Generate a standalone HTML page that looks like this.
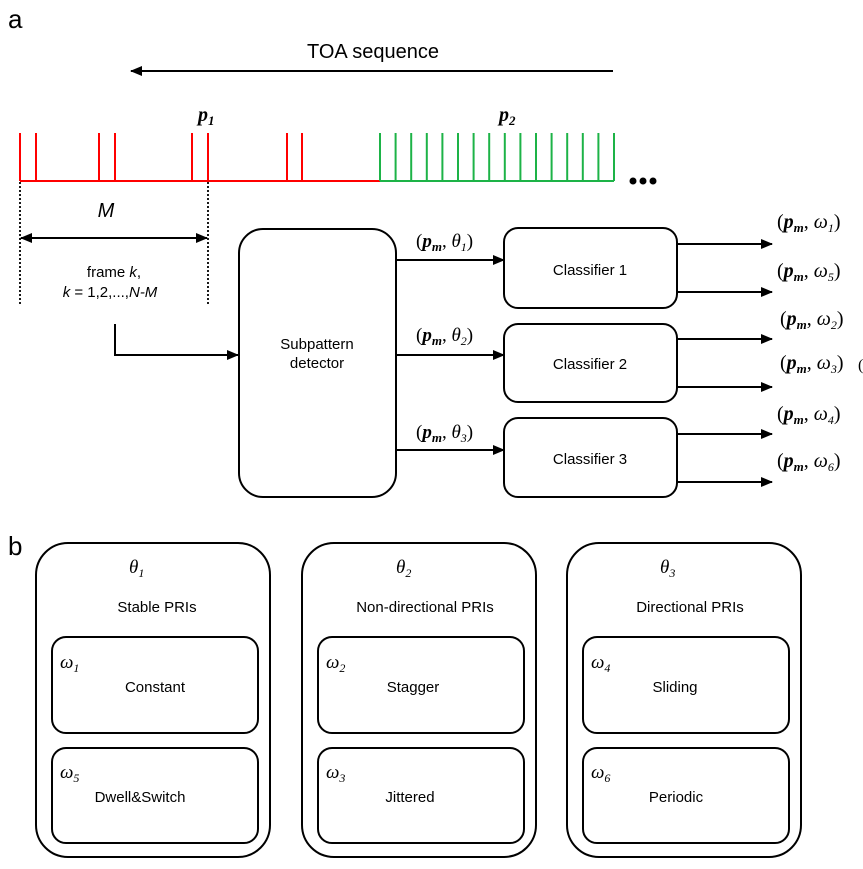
<!DOCTYPE html>
<html><head><meta charset="utf-8"><style>
html,body{margin:0;padding:0;background:#fff;}
svg{display:block;}
.s{font-family:"Liberation Sans",sans-serif;fill:#000;}
.m{font-family:"Liberation Serif",serif;fill:#000;}
</style></head><body>
<svg width="863" height="869" viewBox="0 0 863 869" xmlns="http://www.w3.org/2000/svg">
<defs>
<marker id="ar" markerWidth="12" markerHeight="10" refX="11" refY="5" orient="auto" markerUnits="userSpaceOnUse"><path d="M0,0 L12,5 L0,10 Z" fill="#000"/></marker>
<marker id="al" markerWidth="12" markerHeight="10" refX="1" refY="5" orient="auto" markerUnits="userSpaceOnUse"><path d="M12,0 L0,5 L12,10 Z" fill="#000"/></marker>
</defs>
<text x="8" y="28" class="s" font-size="26">a</text>
<text x="373" y="58" class="s" font-size="20" text-anchor="middle">TOA sequence</text>
<line x1="131" y1="71" x2="613" y2="71" stroke="#000" stroke-width="2" marker-start="url(#al)"/>
<text x="198" y="121" class="m" font-size="20" font-weight="bold" font-style="italic">p<tspan font-size="13" dy="4">1</tspan></text>
<text x="499" y="121" class="m" font-size="20" font-weight="bold" font-style="italic">p<tspan font-size="13" dy="4">2</tspan></text>
<g stroke="#f00" stroke-width="2">
<line x1="20" y1="181" x2="380" y2="181"/>
<line x1="20" y1="133" x2="20" y2="181"/><line x1="36" y1="133" x2="36" y2="181"/>
<line x1="99" y1="133" x2="99" y2="181"/><line x1="115" y1="133" x2="115" y2="181"/>
<line x1="192" y1="133" x2="192" y2="181"/><line x1="208" y1="133" x2="208" y2="181"/>
<line x1="287" y1="133" x2="287" y2="181"/><line x1="302" y1="133" x2="302" y2="181"/>
</g>
<g stroke="#1db347" stroke-width="2">
<line x1="380" y1="181" x2="614" y2="181"/>
<line x1="380" y1="133" x2="380" y2="181"/><line x1="395.6" y1="133" x2="395.6" y2="181"/><line x1="411.2" y1="133" x2="411.2" y2="181"/><line x1="426.8" y1="133" x2="426.8" y2="181"/><line x1="442.4" y1="133" x2="442.4" y2="181"/><line x1="458" y1="133" x2="458" y2="181"/><line x1="473.6" y1="133" x2="473.6" y2="181"/><line x1="489.2" y1="133" x2="489.2" y2="181"/><line x1="504.8" y1="133" x2="504.8" y2="181"/><line x1="520.4" y1="133" x2="520.4" y2="181"/><line x1="536" y1="133" x2="536" y2="181"/><line x1="551.6" y1="133" x2="551.6" y2="181"/><line x1="567.2" y1="133" x2="567.2" y2="181"/><line x1="582.8" y1="133" x2="582.8" y2="181"/><line x1="598.4" y1="133" x2="598.4" y2="181"/><line x1="614" y1="133" x2="614" y2="181"/>
</g>
<circle cx="633" cy="181" r="3.5"/><circle cx="643" cy="181" r="3.5"/><circle cx="653" cy="181" r="3.5"/>
<g stroke="#000" stroke-width="1.8" stroke-dasharray="2,2">
<line x1="20" y1="182" x2="20" y2="306"/><line x1="208" y1="182" x2="208" y2="306"/>
</g>
<text x="106" y="217" class="s" font-size="20" font-style="italic" text-anchor="middle">M</text>
<line x1="21" y1="238" x2="207" y2="238" stroke="#000" stroke-width="2" marker-start="url(#al)" marker-end="url(#ar)"/>
<text x="114" y="277" class="s" font-size="15" text-anchor="middle">frame <tspan font-style="italic">k</tspan>,</text>
<text x="110" y="297" class="s" font-size="15" text-anchor="middle"><tspan font-style="italic">k</tspan> = 1,2,...,<tspan font-style="italic">N-M</tspan></text>
<polyline points="115,324 115,355 238,355" fill="none" stroke="#000" stroke-width="2" marker-end="url(#ar)"/>
<rect x="239" y="229" width="157" height="268" rx="24" fill="none" stroke="#000" stroke-width="2"/>
<text x="317" y="349" class="s" font-size="15" text-anchor="middle">Subpattern</text>
<text x="317" y="368" class="s" font-size="15" text-anchor="middle">detector</text>
<g stroke="#000" stroke-width="2" fill="none">
<line x1="396" y1="260" x2="504" y2="260" marker-end="url(#ar)"/>
<line x1="396" y1="355" x2="504" y2="355" marker-end="url(#ar)"/>
<line x1="396" y1="450" x2="504" y2="450" marker-end="url(#ar)"/>
<rect x="504" y="228" width="173" height="80" rx="14"/>
<rect x="504" y="324" width="173" height="78" rx="14"/>
<rect x="504" y="418" width="173" height="79" rx="14"/>
<line x1="677" y1="244" x2="772" y2="244" marker-end="url(#ar)"/>
<line x1="677" y1="292" x2="772" y2="292" marker-end="url(#ar)"/>
<line x1="677" y1="339" x2="772" y2="339" marker-end="url(#ar)"/>
<line x1="677" y1="387" x2="772" y2="387" marker-end="url(#ar)"/>
<line x1="677" y1="434" x2="772" y2="434" marker-end="url(#ar)"/>
<line x1="677" y1="482" x2="772" y2="482" marker-end="url(#ar)"/>
</g>
<text x="590" y="275" class="s" font-size="15" text-anchor="middle">Classifier 1</text>
<text x="590" y="369" class="s" font-size="15" text-anchor="middle">Classifier 2</text>
<text x="590" y="464" class="s" font-size="15" text-anchor="middle">Classifier 3</text>
<g class="m" font-size="19">
<text x="416" y="247">(<tspan font-weight="bold" font-style="italic">p<tspan font-size="13" dy="4">m</tspan></tspan><tspan dy="-4">, </tspan><tspan font-style="italic">θ<tspan font-size="12" dy="4">1</tspan></tspan><tspan dy="-4">)</tspan></text>
<text x="416" y="341">(<tspan font-weight="bold" font-style="italic">p<tspan font-size="13" dy="4">m</tspan></tspan><tspan dy="-4">, </tspan><tspan font-style="italic">θ<tspan font-size="12" dy="4">2</tspan></tspan><tspan dy="-4">)</tspan></text>
<text x="416" y="438">(<tspan font-weight="bold" font-style="italic">p<tspan font-size="13" dy="4">m</tspan></tspan><tspan dy="-4">, </tspan><tspan font-style="italic">θ<tspan font-size="12" dy="4">3</tspan></tspan><tspan dy="-4">)</tspan></text>
</g>
<g class="m" font-size="20">
<text x="777" y="228">(<tspan font-weight="bold" font-style="italic">p<tspan font-size="13" dy="4">m</tspan></tspan><tspan dy="-4">, </tspan><tspan font-style="italic">ω<tspan font-size="12" dy="4">1</tspan></tspan><tspan dy="-4">)</tspan></text>
<text x="777" y="277">(<tspan font-weight="bold" font-style="italic">p<tspan font-size="13" dy="4">m</tspan></tspan><tspan dy="-4">, </tspan><tspan font-style="italic">ω<tspan font-size="12" dy="4">5</tspan></tspan><tspan dy="-4">)</tspan></text>
<text x="780" y="325">(<tspan font-weight="bold" font-style="italic">p<tspan font-size="13" dy="4">m</tspan></tspan><tspan dy="-4">, </tspan><tspan font-style="italic">ω<tspan font-size="12" dy="4">2</tspan></tspan><tspan dy="-4">)</tspan></text>
<text x="780" y="369">(<tspan font-weight="bold" font-style="italic">p<tspan font-size="13" dy="4">m</tspan></tspan><tspan dy="-4">, </tspan><tspan font-style="italic">ω<tspan font-size="12" dy="4">3</tspan></tspan><tspan dy="-4">)</tspan></text>
<text x="777" y="420">(<tspan font-weight="bold" font-style="italic">p<tspan font-size="13" dy="4">m</tspan></tspan><tspan dy="-4">, </tspan><tspan font-style="italic">ω<tspan font-size="12" dy="4">4</tspan></tspan><tspan dy="-4">)</tspan></text>
<text x="777" y="467">(<tspan font-weight="bold" font-style="italic">p<tspan font-size="13" dy="4">m</tspan></tspan><tspan dy="-4">, </tspan><tspan font-style="italic">ω<tspan font-size="12" dy="4">6</tspan></tspan><tspan dy="-4">)</tspan></text>
<text x="858" y="370" font-size="16">(</text>
</g>
<text x="8" y="555" class="s" font-size="26">b</text>
<g stroke="#000" stroke-width="2" fill="none">
<rect x="36" y="543" width="234" height="314" rx="32"/>
<rect x="302" y="543" width="234" height="314" rx="32"/>
<rect x="567" y="543" width="234" height="314" rx="32"/>
<rect x="52" y="637" width="206" height="96" rx="14"/>
<rect x="52" y="748" width="206" height="95" rx="14"/>
<rect x="318" y="637" width="206" height="96" rx="14"/>
<rect x="318" y="748" width="206" height="95" rx="14"/>
<rect x="583" y="637" width="206" height="96" rx="14"/>
<rect x="583" y="748" width="206" height="95" rx="14"/>
</g>
<g class="m" font-size="19" font-style="italic">
<text x="129" y="573">θ<tspan font-size="12" dy="4">1</tspan></text>
<text x="396" y="573">θ<tspan font-size="12" dy="4">2</tspan></text>
<text x="660" y="573">θ<tspan font-size="12" dy="4">3</tspan></text>
<text x="60" y="668">ω<tspan font-size="12" dy="4">1</tspan></text>
<text x="60" y="778">ω<tspan font-size="12" dy="4">5</tspan></text>
<text x="326" y="668">ω<tspan font-size="12" dy="4">2</tspan></text>
<text x="326" y="778">ω<tspan font-size="12" dy="4">3</tspan></text>
<text x="591" y="668">ω<tspan font-size="12" dy="4">4</tspan></text>
<text x="591" y="778">ω<tspan font-size="12" dy="4">6</tspan></text>
</g>
<g class="s" font-size="15" text-anchor="middle">
<text x="157" y="612">Stable PRIs</text>
<text x="425" y="612">Non-directional PRIs</text>
<text x="690" y="612">Directional PRIs</text>
<text x="155" y="692">Constant</text>
<text x="140" y="802">Dwell&amp;Switch</text>
<text x="413" y="692">Stagger</text>
<text x="410" y="802">Jittered</text>
<text x="675" y="692">Sliding</text>
<text x="676" y="802">Periodic</text>
</g>
</svg>
</body></html>
